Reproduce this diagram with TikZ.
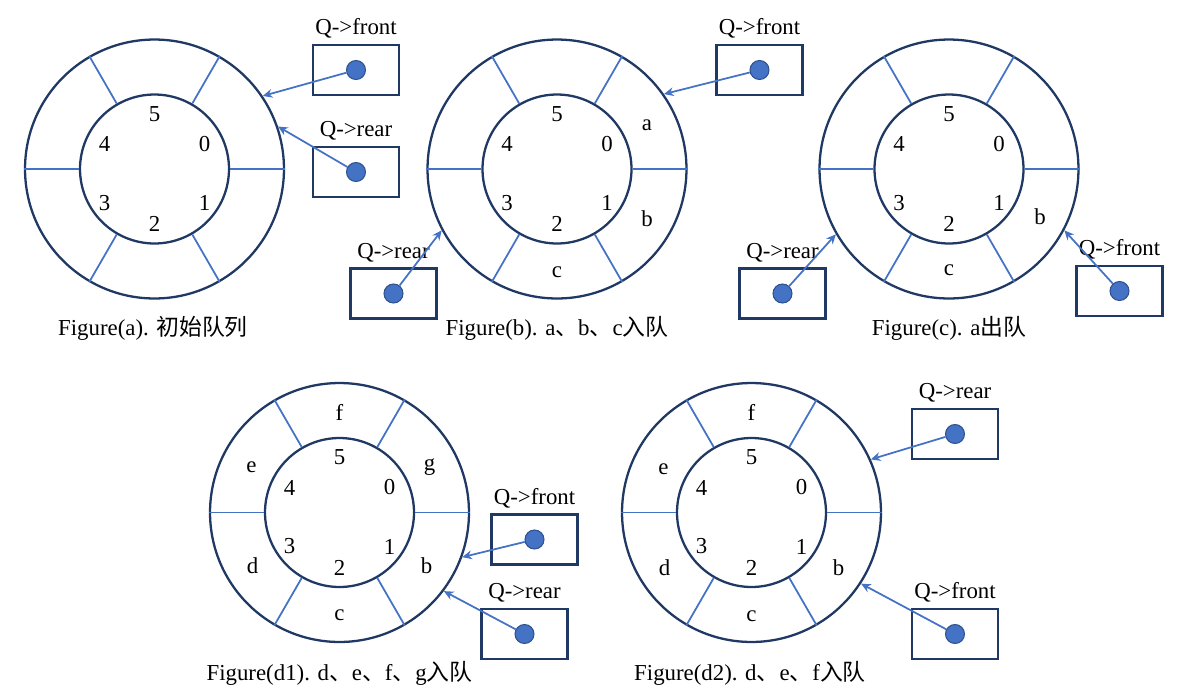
\documentclass[tikz,border=0pt]{standalone}
\usepackage{fontspec}
\setmainfont{Liberation Serif}
\newfontfamily\cjk{Noto Sans CJK SC}
\usetikzlibrary{positioning,arrows.meta}
\definecolor{Navy}{HTML}{203864}
\definecolor{Blue}{HTML}{4472C4}
\definecolor{DBlue}{HTML}{2F528F}
% ring with six slots: name, centre
\newcommand{\queuering}[2]{%
  \node[outer] (#1) at (#2) {};
  \node[inner] (#1-in) at (#2) {};
  \foreach \ang in {0,60,...,300}
    \draw[spoke] (#1-in.\ang) -- (#1.\ang);
  \foreach \idx/\dx/\dy in {0/50/-25,1/50/34,2/0/55,3/-50/34,4/-50/-25,5/0/-55}
    \node[num] (#1-\idx) at ([shift={(\dx,\dy)}]#1.center) {\idx};
}
% pointer box: name, centre, text, target
\newcommand{\qptr}[4]{%
  \node[box] (#1) at (#2) {};
  \node[dot] (#1-dot) at (#1.center) {};
  \node[lbl,above=0pt of #1] (#1-lbl) {#3};
  \draw[ptr] (#1-dot) -- (#4);
}

\begin{document}
\begin{tikzpicture}[
    x=0.02cm,y=-0.02cm,
    font=\fontsize{13}{15}\selectfont,
    outer/.style={circle,draw=Navy,line width=1.3pt,minimum size=5.18cm,inner sep=0pt},
    inner/.style={circle,draw=Navy,line width=1.3pt,minimum size=2.98cm,inner sep=0pt},
    spoke/.style={draw=Blue,line width=1pt},
    num/.style={inner sep=0pt},
    box/.style={draw=Navy,line width=1.3pt,minimum width=1.72cm,minimum height=1cm,inner sep=0pt},
    dot/.style={circle,fill=Blue,draw=DBlue,line width=0.6pt,minimum size=0.38cm,inner sep=0pt},
    lbl/.style={inner sep=3pt},
    ptr/.style={-{Stealth[length=5.5pt,width=5pt]},draw=Blue,line width=1pt},
    captxt/.style={inner sep=0pt}
  ]
  \useasboundingbox (0,0) rectangle (1204,694);

  % (a)
  \queuering{ra}{154.5,169}
  \qptr{fa}{356,70}{Q->front}{ra.34}
  \qptr{qa}{356,172}{Q->rear}{ra.19}
  \node[captxt] (cap-a) at (153,328) {Figure(a). {\cjk 初始队列}};

  % (b)
  \queuering{rb}{557,169}
  \foreach \ltr/\dx/\dy in {a/90/-44,b/90/50,c/0/103}
    \node[num] (rb-\ltr) at ([shift={(\dx,\dy)}]rb.center) {\ltr};
  \qptr{fb}{759.5,70}{Q->front}{rb.35}
  \qptr{qb}{393.5,293.5}{Q->rear}{rb.208}
  \node[captxt] (cap-b) at (557,328) {Figure(b). a{\cjk 、}b{\cjk 、}c{\cjk 入队}};

  % (c)
  \queuering{rc}{949,169}
  \foreach \ltr/\dx/\dy in {b/91/48,c/0/101}
    \node[num] (rc-\ltr) at ([shift={(\dx,\dy)}]rc.center) {\ltr};
  \qptr{qc}{782.5,293.5}{Q->rear}{rc.210}
  \qptr{fc}{1119.5,291}{Q->front}{rc.-28}
  \node[captxt] (cap-c) at (949,328) {Figure(c). a{\cjk 出队}};

  % (d1)
  \queuering{rd}{339.5,512.5}
  \foreach \ltr/\dx/\dy in {g/90/-45,b/87/53,c/0/103,d/-87/53,e/-88/-45,f/0/-100}
    \node[num] (rd-\ltr) at ([shift={(\dx,\dy)}]rd.center) {\ltr};
  \qptr{fd}{534.5,539.5}{Q->front}{rd.-20}
  \qptr{qd}{524.5,634}{Q->rear}{rd.-37}
  \node[captxt] (cap-d) at (339.5,673) {Figure(d1). d{\cjk 、}e{\cjk 、}f{\cjk 、}g{\cjk 入队}};

  % (d2)
  \queuering{re}{751.5,512.5}
  \foreach \ltr/\dx/\dy in {b/87/55,c/0/104,d/-87/55,e/-88/-43,f/0/-100}
    \node[num] (re-\ltr) at ([shift={(\dx,\dy)}]re.center) {\ltr};
  \qptr{qe}{955,434}{Q->rear}{re.24}
  \qptr{fe}{955,634}{Q->front}{re.-33}
  \node[captxt] (cap-e) at (750,673) {Figure(d2). d{\cjk 、}e{\cjk 、}f{\cjk 入队}};
\end{tikzpicture}
\end{document}
